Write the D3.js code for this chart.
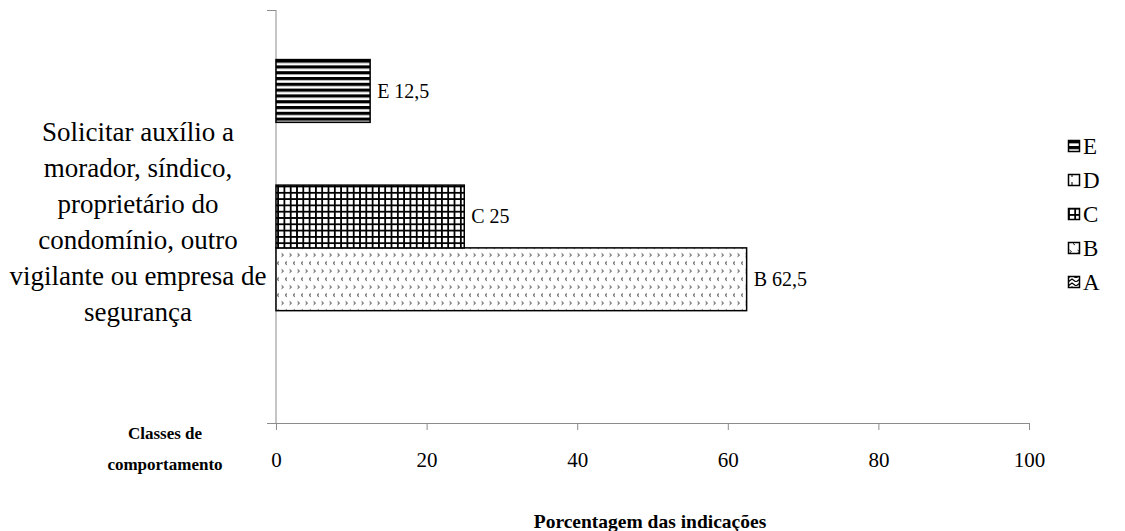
<!DOCTYPE html>
<html>
<head>
<meta charset="utf-8">
<script src="https://cdn.jsdelivr.net/npm/d3@7"></script>
<style>
  body { margin: 0; background: #fff; }
  text, tspan { font-family: "Liberation Serif", "Times New Roman", serif; fill: #000; }
</style>
</head>
<body>
<svg id="chart" width="1125" height="531"></svg>
<script>
// Chart data
var categories = ['Solicitar auxílio a morador, síndico, proprietário do condomínio, outro vigilante ou empresa de segurança'];
var categoryLines = ['Solicitar auxílio a', 'morador, síndico,', 'proprietário do', 'condomínio, outro', 'vigilante ou empresa de', 'segurança'];
var series = ['A', 'B', 'C', 'D', 'E'];
var values = [0, 62.5, 25, 0, 12.5];
var valueLabels = ['', 'B 62,5', 'C 25', '', 'E 12,5'];
var xTicks = [0, 20, 40, 60, 80, 100];

var svg = d3.select('#chart');
var defs = svg.append('defs');

// Fill patterns, one per series
var pE = defs.append('pattern').attr('id', 'pat-E').attr('patternUnits', 'userSpaceOnUse')
  .attr('width', 6).attr('height', 5.8);
pE.append('rect').attr('width', 6).attr('height', 5.8).attr('fill', '#fff');
pE.append('rect').attr('y', 0).attr('width', 6).attr('height', 3.2).attr('fill', '#000');

var pC = defs.append('pattern').attr('id', 'pat-C').attr('patternUnits', 'userSpaceOnUse')
  .attr('width', 6.3).attr('height', 6.3);
pC.append('rect').attr('width', 6.3).attr('height', 6.3).attr('fill', '#fff');
pC.append('rect').attr('width', 1.8).attr('height', 6.3).attr('fill', '#000');
pC.append('rect').attr('width', 6.3).attr('height', 1.8).attr('fill', '#000');

var pB = defs.append('pattern').attr('id', 'pat-B').attr('patternUnits', 'userSpaceOnUse')
  .attr('width', 8).attr('height', 16);
pB.append('rect').attr('width', 8).attr('height', 16).attr('fill', '#fff');
pB.append('path').attr('d', 'M1.5,2 L3.5,3.5 L1.5,5').attr('fill', 'none').attr('stroke', '#333').attr('stroke-width', 1);
pB.append('path').attr('d', 'M7,10 L5,11.5 L7,13').attr('fill', 'none').attr('stroke', '#333').attr('stroke-width', 1);

var pD = defs.append('pattern').attr('id', 'pat-D').attr('patternUnits', 'userSpaceOnUse')
  .attr('width', 8).attr('height', 8);
pD.append('rect').attr('width', 8).attr('height', 8).attr('fill', '#fff');
pD.append('rect').attr('x', 3.5).attr('y', 2).attr('width', 1).attr('height', 3).attr('fill', '#000');

var pA = defs.append('pattern').attr('id', 'pat-A').attr('patternUnits', 'userSpaceOnUse')
  .attr('width', 8).attr('height', 4);
pA.append('rect').attr('width', 8).attr('height', 4).attr('fill', '#fff');
pA.append('path').attr('d', 'M0,4 L4,1 L8,4').attr('fill', 'none').attr('stroke', '#000').attr('stroke-width', 1.2);

// Scales
var x = d3.scaleLinear().domain([0, 100]).range([276, 1029]);
var yCat = d3.scaleBand().domain(categories).range([423, 10]).paddingInner(0).paddingOuter(0.158);
var ySer = d3.scaleBand().domain(series).range([yCat.bandwidth(), 0]);

var axisColor = '#8c8c8c';

// X axis
var gx = svg.append('g').attr('transform', 'translate(0,423)');
gx.call(d3.axisBottom(x).tickValues(xTicks).tickSize(7).tickPadding(22).tickFormat(d3.format('d')));
gx.attr('font-family', null).attr('font-size', null);
gx.select('.domain').attr('stroke', axisColor).attr('d', 'M267,0.5H' + x(100));
gx.selectAll('.tick line').attr('stroke', axisColor);
gx.selectAll('.tick text').style('font-size', '21px').attr('fill', '#000');

// Y axis (category)
svg.append('line').attr('x1', x(0)).attr('x2', x(0)).attr('y1', 10).attr('y2', 423)
  .attr('stroke', axisColor);
svg.append('line').attr('x1', x(0) - 9).attr('x2', x(0)).attr('y1', 10.5).attr('y2', 10.5)
  .attr('stroke', axisColor);

// Bars
var gBars = svg.append('g').attr('transform', 'translate(0,' + yCat(categories[0]) + ')');
var barData = series.map(function(s, i) { return { s: s, v: values[i], label: valueLabels[i] }; })
  .filter(function(d) { return d.v > 0; });

gBars.selectAll('rect').data(barData).enter().append('rect')
  .attr('x', x(0))
  .attr('y', function(d) { return ySer(d.s); })
  .attr('width', function(d) { return x(d.v) - x(0); })
  .attr('height', ySer.bandwidth())
  .attr('fill', function(d) { return 'url(#pat-' + d.s + ')'; })
  .attr('stroke', '#000').attr('stroke-width', 1.5);

gBars.selectAll('text.val').data(barData).enter().append('text')
  .attr('class', 'val')
  .attr('x', function(d) { return x(d.v) + 7; })
  .attr('y', function(d) { return ySer(d.s) + ySer.bandwidth() / 2; })
  .attr('dy', '0.35em')
  .style('font-size', '20px')
  .text(function(d) { return d.label; });

// Category label
var catMid = yCat(categories[0]) + yCat.bandwidth() / 2 + 5;
svg.append('text').attr('x', 138).attr('text-anchor', 'middle').style('font-size', '27px')
  .selectAll('tspan').data(categoryLines).enter().append('tspan')
  .attr('x', 138)
  .attr('y', function(d, i) { return catMid + (i - (categoryLines.length - 1) / 2) * 36; })
  .attr('dy', '0.35em')
  .text(function(d) { return d; });

// Axis titles
svg.append('text').attr('x', 165).attr('text-anchor', 'middle')
  .style('font-size', '17px').style('font-weight', 'bold')
  .selectAll('tspan').data(['Classes de', 'comportamento']).enter().append('tspan')
  .attr('x', 165).attr('y', function(d, i) { return 433 + i * 31; }).attr('dy', '0.35em')
  .text(function(d) { return d; });

svg.append('text').attr('x', 650).attr('y', 521).attr('dy', '0.35em').attr('text-anchor', 'middle')
  .style('font-size', '19.5px').style('font-weight', 'bold')
  .text('Porcentagem das indicações');

// Legend (E on top)
var legendSeries = series.slice().reverse();
var gLeg = svg.append('g');
var item = gLeg.selectAll('g').data(legendSeries).enter().append('g')
  .attr('transform', function(d, i) { return 'translate(1068,' + (146 + i * 34) + ')'; });
item.append('rect').attr('x', 0.5).attr('y', -5.5).attr('width', 11).attr('height', 11)
  .attr('fill', function(d) { return 'url(#pat-' + d + ')'; })
  .attr('stroke', '#000').attr('stroke-width', 1.5);
item.append('text').attr('x', 15).attr('dy', '0.35em').style('font-size', '23px')
  .text(function(d) { return d; });
</script>
</body>
</html>
